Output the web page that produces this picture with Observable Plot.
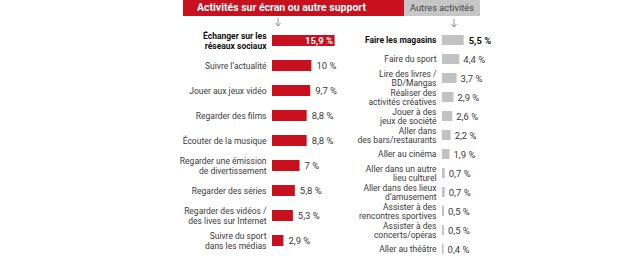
<!DOCTYPE html>
<html><head><meta charset="utf-8">
<script src="https://cdn.jsdelivr.net/npm/d3@7"></script>
<script src="https://cdn.jsdelivr.net/npm/@observablehq/plot@0.6"></script>
<style>
body{margin:0;background:#fff;font-family:Roboto,sans-serif;}
#wrap{position:relative;width:640px;height:256px;overflow:hidden;background:#fff;}
#wrap > svg{position:absolute;left:0;top:0;}
.hdr{position:absolute;top:0;height:16px;line-height:16px;white-space:nowrap;}
.arrow{position:absolute;}
</style></head><body><div id="wrap"></div>
<script>
// Headers
const headers = ["Activités sur écran ou autre support", "Autres activités"];

// Left panel: screen activities
const screenLabels = [
  "Échanger sur les\nréseaux sociaux",
  "Suivre l’actualité",
  "Jouer aux jeux vidéo",
  "Regarder des films",
  "Écouter de la musique",
  "Regarder une émission\nde divertissement",
  "Regarder des séries",
  "Regarder des vidéos /\ndes lives sur Internet",
  "Suivre du sport\ndans les médias"
];
const screenValues = [15.9, 10, 9.7, 8.8, 8.8, 7, 5.8, 5.3, 2.9];

// Right panel: other activities
const otherLabels = [
  "Faire les magasins",
  "Faire du sport",
  "Lire des livres /\nBD/Mangas",
  "Réaliser des\nactivités créatives",
  "Jouer à des\njeux de société",
  "Aller dans\ndes bars/restaurants",
  "Aller au cinéma",
  "Aller dans un autre\nlieu culturel",
  "Aller dans des lieux\nd’amusement",
  "Assister à des\nrencontres sportives",
  "Assister à des\nconcerts/opéras",
  "Aller au théâtre"
];
const otherValues = [5.5, 4.4, 3.7, 2.9, 2.6, 2.2, 1.9, 0.7, 0.7, 0.5, 0.5, 0.4];

const fmt = v => String(v).replace(".", ",") + " %";
const RED = "#c8101e", GREY = "#c2c2c2";

const left = screenLabels.map((label, i) => ({label, value: screenValues[i], i}));
const right = otherLabels.map((label, i) => ({label, value: otherValues[i], i}));

const wrap = document.getElementById("wrap");

const leftPlot = Plot.plot({
  width: 640, height: 256,
  marginTop: 33, marginBottom: 9, marginLeft: 272, marginRight: 305,
  x: {domain: [0, 16], axis: null},
  y: {domain: screenLabels, axis: null, paddingInner: 0.565, paddingOuter: 0},
  style: {fontFamily: "Roboto, sans-serif", background: "transparent"},
  marks: [
    Plot.barX(left, {x: "value", y: "label", fill: RED}),
    Plot.text(left.filter(d => d.i > 0), {x: d => 0, y: "label", text: "label", textAnchor: "end", dx: -6, fontSize: 8.5, lineHeight: 1.2, fill: "#3a3a3a"}),
    Plot.text(left.filter(d => d.i === 0), {x: d => 0, y: "label", text: "label", textAnchor: "end", dx: -6, fontSize: 8.5, lineHeight: 1.2, fill: "#111", fontWeight: "bold"}),
    Plot.text(left.filter(d => d.i === 0), {x: "value", y: "label", text: d => fmt(d.value), textAnchor: "end", dx: -2, fontSize: 9.5, fill: "#fff", fontWeight: "bold"}),
    Plot.text(left.filter(d => d.i > 0), {x: "value", y: "label", text: d => fmt(d.value), textAnchor: "start", dx: 4.5, fontSize: 9.5, fill: "#3a3a3a"})
  ]
});

const rightPlot = Plot.plot({
  width: 640, height: 256,
  marginTop: 33, marginBottom: 1, marginLeft: 442, marginRight: 135,
  x: {domain: [0, 16], axis: null},
  y: {domain: otherLabels, axis: null, paddingInner: 0.48, paddingOuter: 0},
  style: {fontFamily: "Roboto, sans-serif", background: "transparent"},
  marks: [
    Plot.barX(right, {x: "value", y: "label", fill: GREY}),
    Plot.text(right.filter(d => d.i > 0), {x: d => 0, y: "label", text: "label", textAnchor: "end", dx: -6, fontSize: 8.5, lineHeight: 1.02, fill: "#3a3a3a"}),
    Plot.text(right.filter(d => d.i === 0), {x: d => 0, y: "label", text: "label", textAnchor: "end", dx: -6, fontSize: 8.5, fill: "#111", fontWeight: "bold"}),
    Plot.text(right.filter(d => d.i === 0), {x: "value", y: "label", text: d => fmt(d.value), textAnchor: "start", dx: 4.5, fontSize: 9.5, fill: "#111", fontWeight: "bold"}),
    Plot.text(right.filter(d => d.i > 0), {x: "value", y: "label", text: d => fmt(d.value), textAnchor: "start", dx: 3.5, fontSize: 9.5, fill: "#3a3a3a"})
  ]
});

wrap.appendChild(leftPlot);
wrap.appendChild(rightPlot);

// Header bars
const h1 = document.createElement("div");
h1.className = "hdr";
h1.style.cssText += "left:183px;width:207px;height:16px;padding-left:14px;background:" + RED + ";color:#fff;font-weight:bold;font-size:10.5px;";
h1.textContent = headers[0];
wrap.appendChild(h1);
const h2 = document.createElement("div");
h2.className = "hdr";
h2.style.cssText += "left:404px;width:76px;height:16px;background:#c6c6c6;color:#444;font-size:9.3px;text-align:center;";
h2.textContent = headers[1];
wrap.appendChild(h2);

// Arrows
function arrow(x, y1, y2) {
  const ns = "http://www.w3.org/2000/svg";
  const s = document.createElementNS(ns, "svg");
  s.setAttribute("width", 8); s.setAttribute("height", 12);
  s.setAttribute("class", "arrow");
  s.style.left = (x - 4) + "px"; s.style.top = y1 + "px";
  const p = document.createElementNS(ns, "path");
  const h = y2 - y1;
  p.setAttribute("d", `M4,0V${h} M1.5,${h - 3}L4,${h}L6.5,${h - 3}`);
  p.setAttribute("stroke", "#888"); p.setAttribute("fill", "none"); p.setAttribute("stroke-width", 0.9);
  s.appendChild(p);
  wrap.appendChild(s);
}
arrow(278, 18, 26);
arrow(454, 19, 27);
</script></body></html>
